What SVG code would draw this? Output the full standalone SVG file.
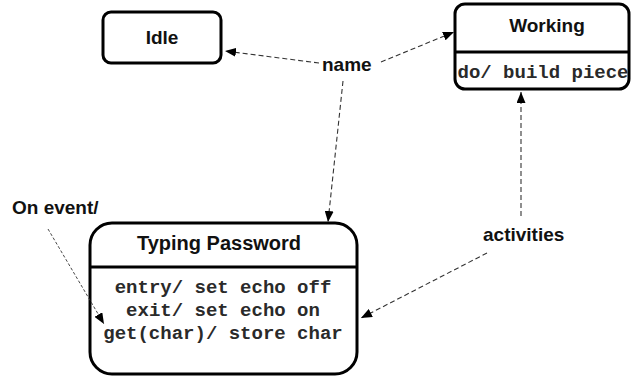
<svg xmlns="http://www.w3.org/2000/svg" width="631" height="377" viewBox="0 0 631 377">
  <style>
    .state { fill: #ffffff; stroke: #000000; stroke-width: 3; }
    .divider { stroke: #000000; stroke-width: 3; }
    .title { font-family: "Liberation Sans", Arial, sans-serif; font-weight: bold; font-size: 19px; fill: #111111; text-anchor: middle; }
    .label { font-family: "Liberation Sans", Arial, sans-serif; font-weight: bold; font-size: 19px; fill: #111111; }
    .body { font-family: "Liberation Mono", "Courier New", monospace; font-weight: bold; font-size: 19px; fill: #2a2a2a; text-anchor: middle; }
    .link { fill: none; stroke: #333333; stroke-width: 1.1; stroke-dasharray: 5 3; marker-end: url(#arrow); }
    .link.fine { stroke-width: 0.9; stroke-dasharray: 3 2; }
  </style>
  <defs>
    <marker id="arrow" markerUnits="userSpaceOnUse" markerWidth="11" markerHeight="9" refX="11" refY="4.5" orient="auto">
      <path d="M0,0 L11,4.5 L0,9 z" fill="#000000"/>
    </marker>
  </defs>

  <rect width="631" height="377" fill="#ffffff"/>

  <!-- states -->
  <g id="idle">
    <rect class="state" x="103" y="12" width="118" height="51" rx="8"/>
    <text class="title" x="162" y="44">Idle</text>
  </g>

  <g id="working">
    <rect class="state" x="455" y="4" width="174" height="85" rx="10"/>
    <line class="divider" x1="455" y1="52" x2="629" y2="52"/>
    <text class="title" x="547" y="32">Working</text>
    <text class="body" x="543" y="78">do/ build piece</text>
  </g>

  <g id="typing-password">
    <rect class="state" x="90" y="223" width="267" height="151" rx="22"/>
    <line class="divider" x1="90" y1="267" x2="357" y2="267"/>
    <text class="title" x="219" y="250" style="font-size:20px">Typing Password</text>
    <text class="body" x="223" y="293">entry/ set echo off</text>
    <text class="body" x="223" y="316">exit/ set echo on</text>
    <text class="body" x="223" y="339">get(char)/ store char</text>
  </g>

  <!-- annotation labels -->
  <g id="labels">
    <text class="label" x="322" y="71">name</text>
    <text class="label" x="483" y="241">activities</text>
    <text class="label" x="12" y="214">On event/</text>
  </g>

  <!-- dashed pointers -->
  <g id="connectors">
    <line class="link" x1="319" y1="63" x2="225" y2="51"/>
    <line class="link" x1="381" y1="62" x2="454" y2="32"/>
    <line class="link" x1="343" y1="81" x2="328" y2="222"/>
    <line class="link" x1="521" y1="216" x2="521" y2="92"/>
    <line class="link" x1="487" y1="253" x2="361" y2="318"/>
    <line class="link fine" x1="48" y1="229" x2="104" y2="324"/>
  </g>
</svg>
